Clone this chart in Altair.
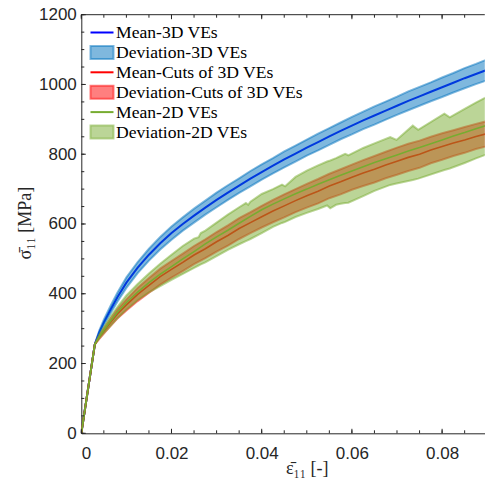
import altair as alt
import pandas as pd

# ---------------- data ----------------
mean_x = [0, 0.003, 0.004, 0.005, 0.0065, 0.008, 0.01, 0.0125, 0.015, 0.0175, 0.02,
          0.0225, 0.025, 0.0275, 0.03, 0.0325, 0.035, 0.0375, 0.04, 0.0425, 0.045,
          0.0475, 0.05, 0.0525, 0.055, 0.0575, 0.06, 0.0625, 0.065, 0.0675, 0.07,
          0.0725, 0.075, 0.0775, 0.08, 0.0825, 0.085, 0.0875, 0.09, 0.092]

blue_mean = [0, 255, 290, 318, 355, 390, 432, 475, 512, 545, 574,
             600, 624, 647, 669, 690, 710, 730, 749, 767, 785,
             802, 819, 835, 851, 867, 882, 897, 911, 925, 939,
             953, 966, 979, 992, 1005, 1018, 1030, 1042, 1052]
blue_dev = [0, 0, 5, 8, 11, 13, 15, 16, 17, 18, 19,
            19, 20, 20, 21, 21, 21, 22, 22, 22, 23,
            23, 23, 24, 24, 24, 25, 25, 26, 26, 26,
            27, 27, 27, 28, 28, 29, 29, 30, 31]

red_mean = [0, 255, 275, 293, 318, 342, 368, 398, 424, 449, 470,
            490, 511, 529, 549, 567, 587, 604, 621, 637, 652,
            667, 681, 694, 709, 721, 734, 746, 757, 769, 780,
            791, 800, 812, 822, 832, 841, 851, 859, 866]
red_dev = [0, 0, 4, 7, 10, 13, 16, 19, 21, 23, 24,
           25, 26, 27, 28, 29, 30, 30, 31, 32, 33,
           33, 34, 35, 35, 36, 36, 37, 38, 38, 39,
           39, 39, 38, 38, 37, 37, 36, 36, 36]

green_mean = [0, 255, 277, 296, 322, 347, 375, 405, 432, 456, 478,
              500, 521, 543, 563, 582, 602, 622, 641, 657, 672,
              687, 700, 714, 727, 740, 752, 764, 776, 787, 798,
              809, 819, 830, 841, 852, 862, 873, 883, 890]

green_x = [0, 0.003, 0.004, 0.005, 0.0065, 0.008, 0.01, 0.0125, 0.015, 0.0175, 0.02,
           0.0225, 0.025, 0.026, 0.0265, 0.0275, 0.03, 0.0325, 0.035, 0.0365, 0.037,
           0.0375, 0.04, 0.0425, 0.0445, 0.0452, 0.0475, 0.05, 0.0525, 0.0545, 0.0552,
           0.0565, 0.0575, 0.0585, 0.0592, 0.0625, 0.065, 0.0685, 0.0699, 0.0735, 0.0747,
           0.0805, 0.0817, 0.085, 0.0875, 0.09, 0.092]
green_hi = [0, 255, 282, 304, 335, 362, 395, 428, 458, 486, 512,
            537, 558, 562, 574, 581, 604, 627, 648, 660, 655,
            664, 686, 700, 713, 708, 735, 753, 768, 779, 782,
            789, 795, 801, 797, 818, 831, 849, 841, 882, 870,
            916, 906, 930, 948, 965, 977]
green_lo = [0, 255, 272, 287, 308, 330, 355, 382, 404, 422, 440,
            457, 474, 481, 484, 490, 508, 526, 542, 551, 554,
            557, 574, 592, 603, 606, 620, 632, 643, 653, 645,
            655, 658, 660, 661, 680, 695, 712, 716, 726, 730,
            755, 759, 775, 788, 800, 808]

labels = ["Mean-3D VEs", "Deviation-3D VEs", "Mean-Cuts of 3D VEs",
          "Deviation-Cuts of 3D VEs", "Mean-2D VEs", "Deviation-2D VEs"]
colors = ["#0000ff", "#0072bd", "#ff0000", "#ff0000", "#77ac30", "#77ac30"]
is_patch = [False, True, False, True, False, True]

x_major = [0, 0.02, 0.04, 0.06, 0.08]
x_minor = [i * 0.005 for i in range(18)]
y_major = [0, 200, 400, 600, 800, 1000, 1200]
y_minor = [i * 50 for i in range(25)]

# ---------------- layout ----------------
PX_PER_X = 4510.0           # pixels per unit strain in the reference
W = 403.5
H = 418.6
AX = "#262626"

xs = alt.Scale(domain=[0, W / PX_PER_X], nice=False, zero=False)
ys = alt.Scale(domain=[0, 1200], nice=False)
color_scale = alt.Scale(domain=labels, range=colors)


def col():
    return alt.Color("series:N", scale=color_scale, legend=None)


xax = alt.Axis(values=x_major, labelExpr="datum.value == 0 ? '0' : format(datum.value, '.2~f')",
               title="\u03b5\u0304\u2081\u2081  [-]", titleX=225.5, titleY=40,
               titleBaseline="alphabetic")
yax = alt.Axis(values=y_major, format="d", title="\u03c3\u0304\u2081\u2081  [MPa]",
               titleX=-51, titleY=208, titleBaseline="alphabetic")


def mean_layer(ys_vals, name, width):
    df = pd.DataFrame({"x": mean_x, "y": ys_vals, "series": name})
    return alt.Chart(df).mark_line(strokeWidth=width, clip=True).encode(
        x=alt.X("x:Q", scale=xs, axis=xax), y=alt.Y("y:Q", scale=ys, axis=yax), color=col())


def band_layers(xv, lo, hi, name):
    df = pd.DataFrame({"x": xv, "lo": lo, "hi": hi, "series": name})
    base = alt.Chart(df)
    area = base.mark_area(fillOpacity=0.5, clip=True).encode(
        x=alt.X("x:Q", scale=xs), y=alt.Y("lo:Q", scale=ys), y2="hi:Q", color=col())
    edges = base.transform_fold(["lo", "hi"], as_=["k", "v"]).mark_line(
        strokeWidth=2, strokeOpacity=0.5, clip=True).encode(
        x=alt.X("x:Q", scale=xs), y=alt.Y("v:Q", scale=ys), detail="k:N", color=col())
    return [area, edges]


blue_lo = [m - d for m, d in zip(blue_mean, blue_dev)]
blue_hi = [m + d for m, d in zip(blue_mean, blue_dev)]
red_lo = [m - d for m, d in zip(red_mean, red_dev)]
red_hi = [m + d for m, d in zip(red_mean, red_dev)]

layers = []
layers.append(mean_layer(blue_mean, labels[0], 2))
layers += band_layers(mean_x, blue_lo, blue_hi, labels[1])
layers.append(mean_layer(red_mean, labels[2], 1.6))
layers += band_layers(mean_x, red_lo, red_hi, labels[3])
layers.append(mean_layer(green_mean, labels[4], 1.6))
layers += band_layers(green_x, green_lo, green_hi, labels[5])


# ---------------- legend (drawn as decoration inside the plot) ----------------
LEG_X0, LEG_X1, LEG_TX = 9.2, 32.2, 34.7
LEG_Y0, LEG_DY = 17.8, 19.9
for i, (lab, c, patch) in enumerate(zip(labels, colors, is_patch)):
    yc = LEG_Y0 + i * LEG_DY
    one = pd.DataFrame({"t": [lab]})
    if patch:
        sym = alt.Chart(one).mark_rect(fill=c, fillOpacity=0.5, stroke=c, strokeOpacity=0.5,
                                       strokeWidth=2).encode(
            x=alt.value(LEG_X0), x2=alt.value(LEG_X1),
            y=alt.value(yc - 6.5), y2=alt.value(yc + 6.5))
    else:
        sym = alt.Chart(one).mark_rule(color=c, strokeWidth=2).encode(
            x=alt.value(LEG_X0), x2=alt.value(LEG_X1), y=alt.value(yc))
    txt = alt.Chart(one).mark_text(align="left", baseline="middle", font="Liberation Serif",
                                   fontSize=17.6, color="black").encode(
        text="t:N", x=alt.value(LEG_TX), y=alt.value(yc + 1))
    layers += [sym, txt]


# ---------------- inward ticks (MATLAB style) and box border ----------------
def xticks(vals, top, ln):
    df = pd.DataFrame({"t": vals})
    if top:
        yy, yy2 = alt.value(0), alt.value(ln)
    else:
        yy, yy2 = alt.value(H), alt.value(H - ln)
    return alt.Chart(df).mark_rule(color=AX, strokeWidth=1).encode(
        x=alt.X("t:Q", scale=xs), y=yy, y2=yy2)


def yticks(vals, ln):
    df = pd.DataFrame({"t": vals})
    return alt.Chart(df).mark_rule(color=AX, strokeWidth=1).encode(
        y=alt.Y("t:Q", scale=ys), x=alt.value(0), x2=alt.value(ln))


layers += [xticks(x_minor, False, 3), xticks(x_major, False, 4.5),
           xticks(x_minor, True, 3), xticks(x_major, True, 4.5),
           yticks(y_minor, 3), yticks(y_major, 4.5)]
top_border = alt.Chart(pd.DataFrame({"t": [0]})).mark_rule(color=AX, strokeWidth=1).encode(
    x=alt.value(0), x2=alt.value(W), y=alt.value(0))
layers.append(top_border)

chart = alt.layer(*layers).properties(
    width=W, height=H,
    autosize=alt.AutoSizeParams(type="none"),
    padding={"left": 73.3, "top": 6.7, "right": 0, "bottom": 46},
).configure_view(stroke=None).configure_axis(
    grid=False, ticks=False, tickSize=0, domainColor=AX, domainWidth=1,
    labelFont="Liberation Sans", labelFontSize=17, labelColor=AX, labelPadding=5,
    titleFont="Liberation Serif, DejaVu Serif", titleFontSize=18, titleColor=AX,
    titleFontWeight="normal",
).configure_axisX(labelPadding=12)

chart.save("out.html", embed_options={"renderer": "svg", "actions": False})
